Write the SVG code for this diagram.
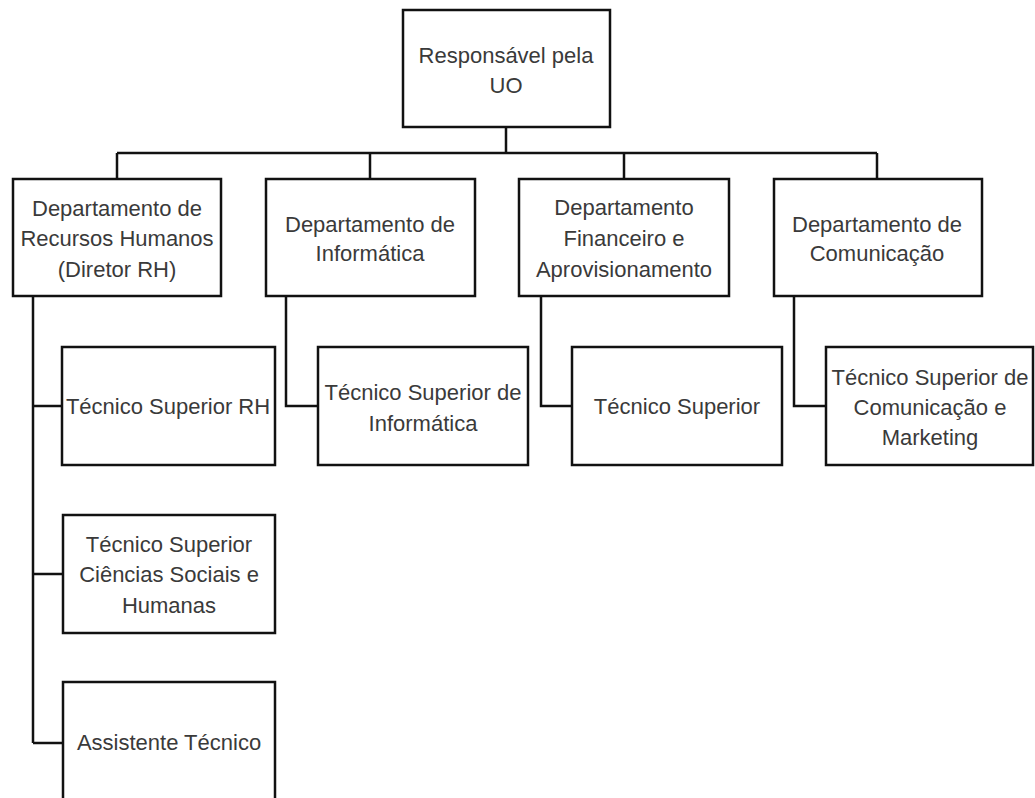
<svg xmlns="http://www.w3.org/2000/svg" width="1035" height="798" viewBox="0 0 1035 798">
<style>
.box{fill:#fff;stroke:#111;stroke-width:2.5}
.t{font-family:"Liberation Sans",Arial,sans-serif;font-size:22px;fill:#3a3a3a;text-anchor:middle}
.c{fill:none;stroke:#111;stroke-width:2.5}
</style>
<rect width="1035" height="798" fill="#fff"/>
<g id="connectors">
<path class="c" d="M506 127V153M117 153H877M117 153V179M370 153V179M624 153V179M877 153V179"/>
<path class="c" d="M33 296V743M33 406H62M33 574H63M33 743H63"/>
<path class="c" d="M286 296V406H318"/>
<path class="c" d="M541 296V406H572"/>
<path class="c" d="M794 296V406H826"/>
</g>
<g id="root"><rect class="box" x="403" y="10" width="207" height="117"/>
<text class="t" x="506" y="63">Responsável pela</text><text class="t" x="506" y="93">UO</text></g>
<g id="dept-rh"><rect class="box" x="13" y="179" width="208" height="117"/>
<text class="t" x="117" y="216">Departamento de</text><text class="t" x="117" y="246">Recursos Humanos</text><text class="t" x="117" y="277">(Diretor RH)</text></g>
<g id="dept-info"><rect class="box" x="266" y="179" width="209" height="117"/>
<text class="t" x="370" y="232">Departamento de</text><text class="t" x="370" y="261">Informática</text></g>
<g id="dept-fin"><rect class="box" x="519" y="179" width="210" height="117"/>
<text class="t" x="624" y="215">Departamento</text><text class="t" x="624" y="246">Financeiro e</text><text class="t" x="624" y="277">Aprovisionamento</text></g>
<g id="dept-com"><rect class="box" x="774" y="179" width="208" height="117"/>
<text class="t" x="877" y="232">Departamento de</text><text class="t" x="877" y="261">Comunicação</text></g>
<g id="ts-rh"><rect class="box" x="62" y="347" width="213" height="118"/>
<text class="t" x="168" y="414">Técnico Superior RH</text></g>
<g id="ts-info"><rect class="box" x="318" y="347" width="210" height="118"/>
<text class="t" x="423" y="400">Técnico Superior de</text><text class="t" x="423" y="431">Informática</text></g>
<g id="ts-fin"><rect class="box" x="572" y="347" width="210" height="118"/>
<text class="t" x="677" y="414">Técnico Superior</text></g>
<g id="ts-com"><rect class="box" x="826" y="347" width="207" height="118"/>
<text class="t" x="930" y="385">Técnico Superior de</text><text class="t" x="930" y="415">Comunicação e</text><text class="t" x="930" y="445">Marketing</text></g>
<g id="ts-csh"><rect class="box" x="63" y="515" width="212" height="118"/>
<text class="t" x="169" y="552">Técnico Superior</text><text class="t" x="169" y="582">Ciências Sociais e</text><text class="t" x="169" y="613">Humanas</text></g>
<g id="assistente"><rect class="box" x="63" y="682" width="212" height="130"/>
<text class="t" x="169" y="750">Assistente Técnico</text></g>
</svg>
